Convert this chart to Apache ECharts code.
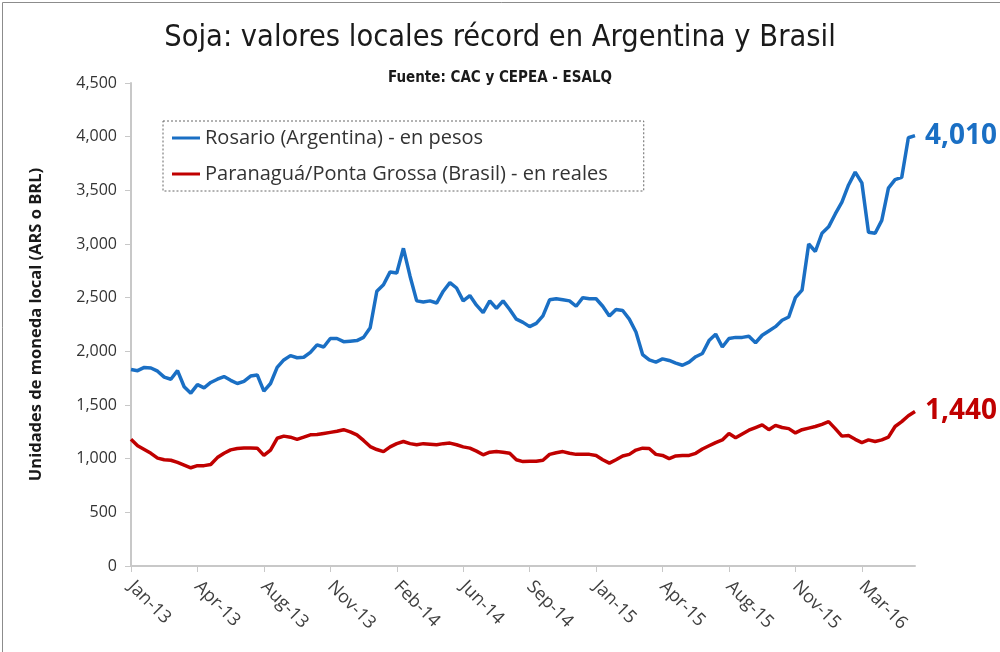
<!DOCTYPE html>
<html>
<head>
<meta charset="utf-8">
<script src="https://cdn.jsdelivr.net/npm/echarts@6/dist/echarts.min.js"></script>
<style>
html,body{margin:0;padding:0;background:#fff;}
#chart{width:1000px;height:652px;}
</style>
</head>
<body>
<div id="chart"></div>
<script>
// Tick labels shown every 10 points on the category axis
const tickLabels = ["Jan-13","Apr-13","Aug-13","Nov-13","Feb-14","Jun-14","Sep-14","Jan-15","Apr-15","Aug-15","Nov-15","Mar-16"];

// Rosario (Argentina) - en pesos
const rosario = [
 1830,1820,1850,1845,1815,1760,1740,1820,1670,1610,
 1690,1660,1710,1740,1765,1730,1700,1720,1770,1780,
 1630,1700,1850,1920,1960,1940,1945,1990,2060,2040,
 2120,2120,2090,2095,2100,2130,2220,2560,2620,2740,
 2730,2960,2700,2470,2460,2470,2450,2560,2640,2590,
 2470,2520,2430,2360,2470,2400,2470,2390,2300,2270,
 2230,2260,2330,2480,2490,2480,2470,2420,2500,2490,
 2490,2420,2330,2390,2380,2300,2180,1970,1920,1900,
 1930,1915,1890,1870,1900,1950,1980,2100,2160,2040,
 2120,2130,2130,2140,2080,2150,2190,2230,2290,2320,
 2500,2570,3000,2930,3100,3160,3280,3390,3550,3670,
 3570,3110,3100,3220,3520,3600,3620,3990,4010
];

// Paranaguá/Ponta Grossa (Brasil) - en reales
const paranagua = [
 1180,1120,1085,1050,1005,990,985,965,940,915,
 935,935,945,1010,1050,1082,1095,1100,1100,1098,
 1030,1080,1190,1210,1200,1180,1200,1222,1225,1235,
 1245,1255,1270,1250,1222,1170,1113,1085,1066,1110,
 1140,1160,1140,1130,1140,1135,1130,1140,1145,1130,
 1110,1098,1070,1036,1060,1066,1060,1050,990,973,
 975,975,985,1040,1055,1066,1050,1040,1040,1040,
 1030,990,958,990,1025,1040,1080,1098,1095,1040,
 1030,1000,1025,1030,1030,1050,1090,1120,1150,1175,
 1235,1195,1230,1265,1290,1315,1270,1310,1290,1280,
 1240,1270,1285,1300,1320,1345,1280,1210,1215,1180,
 1150,1175,1160,1175,1200,1300,1345,1400,1440
];

const categories = rosario.map((_, i) => String(i));
const fmt = v => Number(v).toLocaleString('en-US');
const condensed = "'DejaVu Sans Condensed', 'Liberation Sans Narrow', Roboto, sans-serif";

const chart = echarts.init(document.getElementById('chart'), null, {renderer: 'canvas'});
chart.setOption({
  backgroundColor: '#ffffff',
  animation: false,
  title: [
    {
      text: 'Soja: valores locales récord en Argentina y Brasil',
      left: 'center', top: 18,
      textStyle: {fontFamily: condensed, fontSize: 30.5, fontWeight: 'normal', color: '#1a1a1a'}
    },
    {
      text: 'Fuente: CAC y CEPEA - ESALQ',
      left: 'center', top: 66,
      textStyle: {fontFamily: condensed, fontSize: 15, fontWeight: 'bold', color: '#1a1a1a'}
    }
  ],
  graphic: [{
    type: 'rect', left: 0, top: 0, silent: true,
    shape: {x: 1.5, y: 1.5, width: 1010, height: 670},
    style: {fill: 'none', stroke: '#8c8c8c', lineWidth: 1}
  }],
  legend: {
    orient: 'vertical',
    left: 163, top: 121,
    padding: [7, 36, 7, 9],
    itemGap: 16,
    itemWidth: 28, itemHeight: 3,
    icon: 'rect',
    borderColor: '#666', borderWidth: 1, borderType: [2, 2],
    textStyle: {fontFamily: 'Open Sans', fontSize: 20, color: '#333'},
    data: ['Rosario (Argentina) - en pesos', 'Paranaguá/Ponta Grossa (Brasil) - en reales']
  },
  grid: {left: 131, right: 85, top: 83, bottom: 86, containLabel: false},
  xAxis: {
    type: 'category',
    data: categories,
    boundaryGap: false,
    axisLine: {lineStyle: {color: '#c8c8c8', width: 2}},
    axisTick: {show: true, interval: 9, length: 6, lineStyle: {color: '#c8c8c8', width: 1}},
    axisLabel: {
      interval: 9, rotate: -45, margin: 18,
      fontFamily: 'Open Sans', fontSize: 18, color: '#404040',
      formatter: (v, idx) => (idx % 10 === 0 ? (tickLabels[idx / 10] || '') : '')
    },
    splitLine: {show: false}
  },
  yAxis: {
    type: 'value',
    min: 0, max: 4500, interval: 500,
    name: 'Unidades de moneda local (ARS o BRL)',
    nameLocation: 'middle', nameGap: 86,
    nameTextStyle: {fontFamily: 'Open Sans', fontSize: 16.5, fontWeight: 'bold', color: '#1a1a1a'},
    axisLine: {show: true, lineStyle: {color: '#c8c8c8', width: 2}},
    axisTick: {show: true, length: 6, lineStyle: {color: '#c8c8c8'}},
    axisLabel: {fontFamily: 'Open Sans', fontSize: 16, color: '#333', margin: 14, formatter: fmt},
    splitLine: {show: false}
  },
  series: [
    {
      name: 'Rosario (Argentina) - en pesos',
      type: 'line', data: rosario, symbol: 'none',
      lineStyle: {color: '#1a6fc4', width: 3.5}, itemStyle: {color: '#1a6fc4'},
      endLabel: {show: true, distance: 10, formatter: p => fmt(p.value), fontFamily: 'Open Sans', fontSize: 28, fontWeight: 'bold', color: '#1a6fc4'}
    },
    {
      name: 'Paranaguá/Ponta Grossa (Brasil) - en reales',
      type: 'line', data: paranagua, symbol: 'none',
      lineStyle: {color: '#c00000', width: 3.5}, itemStyle: {color: '#c00000'},
      endLabel: {show: true, distance: 10, formatter: p => fmt(p.value), fontFamily: 'Open Sans', fontSize: 28, fontWeight: 'bold', color: '#c00000'}
    }
  ]
});
</script>
</body>
</html>
